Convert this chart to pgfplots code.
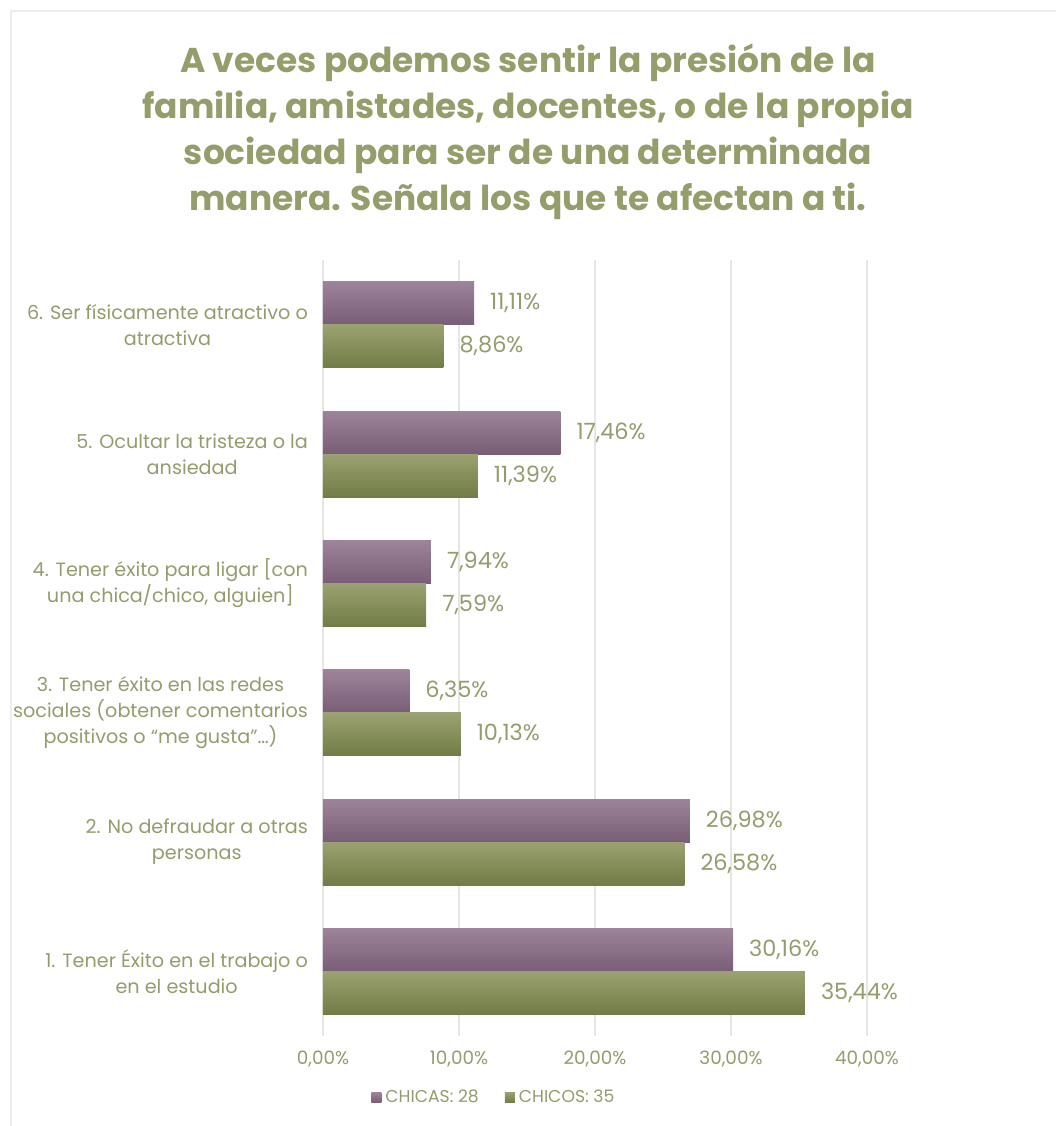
\documentclass[border=0pt]{standalone}
\usepackage{fontspec}
\setmainfont{Poppins}
\usepackage{pgfplots}
\pgfplotsset{compat=1.18}

\definecolor{titlecol}{HTML}{959D6B}
\definecolor{txtcol}{HTML}{949C6C}
\definecolor{gridcol}{HTML}{E6E6E2}
\definecolor{bordercol}{HTML}{EEEEE8}
\definecolor{purpTop}{HTML}{9E849A}
\definecolor{purpBot}{HTML}{785D76}
\definecolor{grnTop}{HTML}{9BA271}
\definecolor{grnBot}{HTML}{717C46}

\pgfplotsset{
  chicas/.style={draw=none, top color=purpTop, bottom color=purpBot, bar shift=10.75pt},
  chicos/.style={draw=none, top color=grnTop, bottom color=grnBot, bar shift=-10.75pt},
}

\begin{document}
\begin{tikzpicture}[x=1pt,y=1pt]
\useasboundingbox (0,0) rectangle (528,563);
\draw[bordercol, line width=1pt] (5.5,0) -- (5.5,557.5) -- (530,557.5);

\node[align=center, text=titlecol, font=\bfseries\fontsize{17.2}{23}\selectfont] at (264,497)
  {A veces podemos sentir la presión de la\\
   familia, amistades, docentes, o de la propia\\
   sociedad para ser de una determinada\\
   manera. Señala los que te afectan a ti.};

\begin{axis}[
    at={(161.5pt,45pt)}, anchor=south west,
    scale only axis, width=272pt, height=388pt,
    xmin=0, xmax=40, ymin=0.5, ymax=6.5,
    axis line style={draw=none},
    xmajorgrids, grid style={gridcol, line width=0.9pt},
    major tick length=0,
    xtick={0,10,20,30,40},
    xticklabels={{0,00\%},{10,00\%},{20,00\%},{30,00\%},{40,00\%}},
    ytick={1,2,3,4,5,6},
    yticklabels={
      {1. Tener Éxito en el trabajo o\\en el estudio},
      {2. No defraudar a otras\\personas},
      {3. Tener éxito en las redes\\sociales (obtener comentarios\\positivos o “me gusta”…)},
      {4. Tener éxito para ligar [con\\una chica/chico, alguien]},
      {5. Ocultar la tristeza o la\\ansiedad},
      {6. Ser físicamente atractivo o\\atractiva}},
    tick label style={text=txtcol},
    yticklabel style={align=center, xshift=-4pt, font=\fontsize{9.6}{13}\selectfont},
    xticklabel style={yshift=-4pt, font=\fontsize{9.2}{12}\selectfont},
    xbar, bar width=21.5pt,
    /pgf/number format/.cd, use comma, fixed, fixed zerofill, precision=2, assume math mode=true,
    /pgfplots/.cd,
    nodes near coords={\pgfmathprintnumber{\pgfplotspointmeta}\%},
    nodes near coords style={anchor=west, xshift=4.5pt, text=txtcol, font=\fontsize{11.2}{13}\selectfont},
    legend style={at={(0.316,-0.079)}, anchor=center, draw=none, fill=none,
      font=\fontsize{8.6}{11}\selectfont, text=txtcol,
      /tikz/every odd column/.append style={column sep=0pt},
      /tikz/every even column/.append style={column sep=11pt}},
    legend columns=2,
    legend image code/.code={\path[#1] (0pt,-2.5pt) rectangle (5pt,2.5pt);},
]
% one plot per bar so that each bar gets its own gradient
\addplot[chicas] coordinates {(30.16,1)};
\addlegendentry{CHICAS: 28}
\addplot[chicos] coordinates {(35.44,1)};
\addlegendentry{CHICOS: 35}

\addplot[chicas, forget plot] coordinates {(26.98,2)};
\addplot[chicas, forget plot] coordinates {(6.35,3)};
\addplot[chicas, forget plot] coordinates {(7.94,4)};
\addplot[chicas, forget plot] coordinates {(17.46,5)};
\addplot[chicas, forget plot] coordinates {(11.11,6)};

\addplot[chicos, forget plot] coordinates {(26.58,2)};
\addplot[chicos, forget plot] coordinates {(10.13,3)};
\addplot[chicos, forget plot] coordinates {(7.59,4)};
\addplot[chicos, forget plot] coordinates {(11.39,5)};
\addplot[chicos, forget plot] coordinates {(8.86,6)};
\end{axis}
\end{tikzpicture}
\end{document}
